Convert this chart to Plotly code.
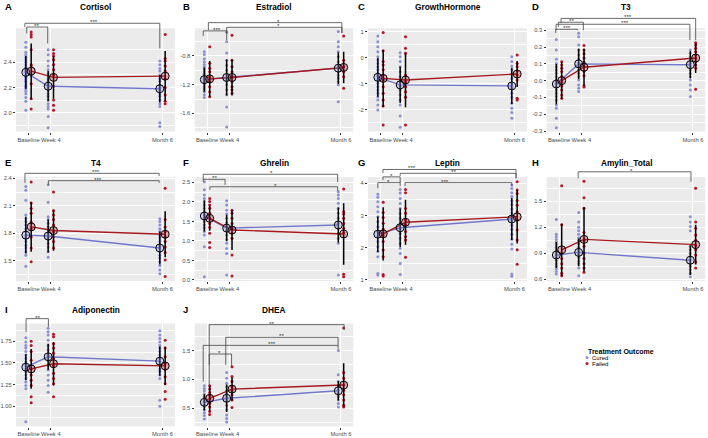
import plotly.graph_objects as go

W, H = 708, 438
TIMES = ["Baseline", "Week 4", "Month 6"]
TIME_X = [0, 1, 6]

# ---------------- data ----------------
A_cured = [[2.56, 2.52, 2.48, 2.46, 2.44, 2.42, 2.40, 2.38, 2.36, 2.35, 2.33, 2.32, 2.30, 2.29, 2.28, 2.27, 2.26, 2.25, 2.24, 2.22, 2.21, 2.20, 2.19, 2.17, 2.15, 2.12, 2.09, 2.02],
           [2.50, 2.46, 2.41, 2.37, 2.34, 2.31, 2.27, 2.25, 2.22, 2.20, 2.18, 2.15, 2.13, 2.10, 2.07, 2.05, 2.03, 1.97, 1.88],
           [2.41, 2.38, 2.35, 2.33, 2.30, 2.27, 2.25, 2.22, 2.20, 2.18, 2.15, 2.13, 2.10, 2.07, 2.05, 1.92, 1.89]]
A_failed = [[2.64, 2.62, 2.60, 2.50, 2.38, 2.37, 2.30, 2.23, 2.11, 2.03],
            [2.50, 2.47, 2.45, 2.42, 2.38, 2.34, 2.30, 2.21, 2.10, 2.06, 2.02],
            [2.62, 2.43, 2.41, 2.37, 2.33, 2.27, 2.20, 2.14, 2.09, 2.07]]
A_mean_c = [2.32, 2.21, 2.19]
A_mean_f = [2.33, 2.28, 2.29]
A_sd_c = [0.13, 0.12, 0.11]
A_sd_f = [0.22, 0.17, 0.20]
A_ticks = [2.0, 2.2, 2.4]
# (x0, x1, y, left-leg end, right-leg end, label, label x)
A_sig = [(-0.16, 5.88, 2.71, 2.68, 2.51, "***", 2.93), (-0.08, 0.86, 2.68, 2.63, 2.55, "**", 0.37)]

B_cured = [[-0.74, -0.78, -0.84, -0.88, -0.92, -0.95, -0.98, -1.01, -1.04, -1.06, -1.08, -1.10, -1.12, -1.14, -1.16, -1.18, -1.20, -1.23, -1.26, -1.30, -1.34, -1.38],
           [-0.47, -0.60, -0.76, -0.86, -0.93, -1.00, -1.06, -1.13, -1.20, -1.27, -1.34, -1.51, -1.79],
           [-0.46, -0.60, -0.67, -0.74, -0.81, -0.88, -0.93, -0.97, -1.02, -1.07, -1.11, -1.16, -1.20, -1.44]]
B_failed = [[-0.67, -0.90, -0.97, -1.02, -1.09, -1.16, -1.23, -1.30, -1.37],
            [-0.51, -0.86, -0.95, -1.02, -1.09, -1.16, -1.23, -1.27, -1.32],
            [-0.52, -0.86, -0.95, -1.02, -1.09, -1.25]]
B_mean_c = [-1.13, -1.10, -0.97]
B_mean_f = [-1.12, -1.10, -0.96]
B_sd_c = [0.17, 0.25, 0.22]
B_sd_f = [0.25, 0.25, 0.22]
B_ticks = [-1.6, -1.2, -0.8]
B_sig = [(0.06, 6.04, -0.335, -0.44, -0.48, "*", 3.18), (0.88, 6.04, -0.40, -0.48, -0.48, "*", 3.18),
         (-0.17, 0.88, -0.45, -0.52, -0.58, "***", 0.43)]

C_cured = [[0.84, 0.62, 0.42, 0.23, 0.04, -0.09, -0.22, -0.35, -0.47, -0.60, -0.73, -0.86, -0.99, -1.12, -1.25, -1.37, -1.51, -1.63, -1.83, -2.02],
           [0.19, 0.04, -0.15, -0.35, -0.54, -0.73, -0.93, -1.09, -1.25, -1.44, -1.63, -1.83, -2.25, -2.69],
           [0.04, -0.15, -0.32, -0.47, -0.63, -0.80, -0.99, -1.18, -1.37, -1.53, -1.76, -1.95, -2.12, -2.34]]
C_failed = [[0.97, 0.27, -0.15, -0.28, -0.47, -0.67, -0.86, -1.12, -1.37, -1.63, -1.86, -2.60],
            [0.81, 0.36, 0.17, -0.67, -0.93, -1.12, -1.31, -1.53, -2.60],
            [0.10, -0.22, -0.35, -0.50, -0.67, -0.86, -1.57, -1.63]]
C_mean_c = [-0.76, -1.05, -1.09]
C_mean_f = [-0.80, -0.86, -0.63]
C_sd_c = [0.75, 0.70, 0.70]
C_sd_f = [1.10, 1.05, 0.50]
C_ticks = [-2, -1, 0, 1]
C_sig = []

D_cured = [[0.246, 0.183, 0.127, 0.103, 0.083, 0.064, 0.044, 0.024, 0.004, -0.015, -0.036, -0.055, -0.075, -0.095, -0.115, -0.145, -0.164, -0.224, -0.28],
           [0.282, 0.262, 0.213, 0.183, 0.153, 0.127, 0.104, 0.083, 0.064, 0.044, 0.024, 0.004, -0.026, -0.045, -0.065],
           [0.183, 0.163, 0.143, 0.123, 0.104, 0.083, 0.064, 0.044, 0.024, 0.004, -0.026, -0.055, -0.095]]
D_failed = [[0.113, 0.093, 0.074, 0.054, 0.024, -0.006, -0.032, -0.055, -0.085, -0.105],
            [0.21, 0.183, 0.16, 0.135, 0.11, 0.085, 0.055, 0.03, -0.03, -0.038],
            [0.226, 0.212, 0.193, 0.173, 0.153, 0.133, 0.113, 0.093, 0.074, -0.051]]
D_mean_c = [-0.02, 0.10, 0.095]
D_mean_f = [0.0, 0.08, 0.135]
D_sd_c = [0.12, 0.09, 0.08]
D_sd_f = [0.11, 0.11, 0.09]
D_ticks = [-0.3, -0.2, -0.1, 0.0, 0.1, 0.2, 0.3]
D_sig = [(0.09, 6.12, 0.371, 0.343, 0.242, "***", 3.1), (-0.03, 1.09, 0.348, 0.32, 0.30, "**", 0.57),
         (-0.13, 5.86, 0.336, 0.30, 0.242, "***", 2.96), (-0.15, 0.84, 0.306, 0.284, 0.30, "***", 0.34)]

E_cured = [[2.31, 2.27, 2.16, 2.00, 1.96, 1.93, 1.89, 1.85, 1.82, 1.78, 1.75, 1.71, 1.67, 1.64, 1.60, 1.56, 1.44],
           [2.33, 2.14, 1.98, 1.95, 1.91, 1.87, 1.84, 1.80, 1.76, 1.73, 1.69, 1.65, 1.60, 1.54],
           [1.96, 1.93, 1.89, 1.85, 1.82, 1.78, 1.75, 1.71, 1.67, 1.64, 1.60, 1.56, 1.53, 1.49, 1.45, 1.40, 1.36]]
E_failed = [[2.36, 2.13, 2.07, 2.02, 1.92, 1.85, 1.76, 1.64, 1.49],
            [2.25, 2.05, 2.00, 1.95, 1.89, 1.82, 1.76, 1.71, 1.64],
            [2.29, 1.95, 1.87, 1.82, 1.76, 1.71, 1.65, 1.59, 1.51, 1.33]]
E_mean_c = [1.78, 1.77, 1.64]
E_mean_f = [1.87, 1.83, 1.79]
E_sd_c = [0.20, 0.18, 0.18]
E_sd_f = [0.27, 0.22, 0.25]
E_ticks = [1.5, 1.8, 2.1, 2.4]
E_sig = [(-0.16, 5.85, 2.454, 2.35, 2.425, "***", 3.0), (0.89, 5.85, 2.374, 2.33, 2.35, "***", 3.1)]

F_cured = [[2.52, 2.31, 2.18, 2.09, 2.01, 1.92, 1.84, 1.75, 1.67, 1.58, 1.50, 1.41, 1.33, 1.24, 1.15, 0.85, 0.08],
           [2.03, 1.92, 1.79, 1.69, 1.58, 1.47, 1.37, 1.26, 1.15, 1.04, 0.94, 0.81, 0.68, 0.13],
           [2.26, 2.18, 2.09, 1.97, 1.84, 1.71, 1.58, 1.45, 1.32, 1.20, 1.07, 0.94, 0.13]]
F_failed = [[2.09, 2.01, 1.92, 1.84, 1.71, 1.58, 1.45, 1.35, 1.20, 0.96, 0.83],
            [1.79, 1.71, 1.58, 1.45, 1.32, 1.20, 1.07, 0.64, 0.10],
            [2.33, 1.75, 1.69, 1.58, 1.45, 1.32, 1.21, 0.15, 0.08]]
F_mean_c = [1.64, 1.33, 1.41]
F_mean_f = [1.58, 1.28, 1.18]
F_sd_c = [0.40, 0.34, 0.45]
F_sd_f = [0.32, 0.51, 0.79]
F_ticks = [0.0, 0.5, 1.0, 1.5, 2.0, 2.5]
F_sig = [(-0.17, 5.85, 2.71, 2.58, 2.51, "*", 2.9), (-0.17, 0.81, 2.58, 2.52, 2.44, "**", 0.33),
         (0.13, 5.85, 2.39, 2.31, 2.28, "*", 3.05)]

G_cured = [[3.66, 3.57, 3.43, 3.27, 3.12, 2.96, 2.81, 2.65, 2.50, 2.34, 2.19, 2.03, 1.88, 1.72, 1.20, 1.15],
           [3.81, 3.70, 3.53, 3.37, 3.22, 3.06, 2.91, 2.75, 2.60, 2.44, 2.29, 2.13, 1.98, 1.82, 1.51, 1.17],
           [3.95, 3.84, 3.71, 3.59, 3.46, 3.34, 3.20, 3.08, 2.96, 2.83, 2.70, 2.57, 2.42, 2.26, 2.11, 1.96, 1.18, 1.11]]
G_failed = [[3.41, 3.09, 2.94, 2.76, 2.57, 2.39, 2.19, 1.93, 1.72, 1.17, 1.12],
            [3.81, 3.71, 3.22, 3.07, 2.86, 2.71, 2.50, 2.34, 2.24, 1.70],
            [4.05, 3.79, 3.68, 3.47, 3.32, 3.12, 2.86, 2.55, 2.24, 1.94, 1.49]]
G_mean_c = [2.42, 2.62, 2.89]
G_mean_f = [2.43, 2.79, 2.96]
G_sd_c = [0.55, 0.60, 0.65]
G_sd_f = [0.83, 0.70, 0.83]
G_ticks = [1, 2, 3, 4]
G_sig = [(0.11, 6.07, 4.43, 4.32, 4.16, "***", 1.4), (0.88, 6.07, 4.31, 4.23, 4.16, "**", 3.26),
         (0.11, 0.88, 4.20, 4.10, 4.01, "*", 0.5), (1.10, 5.88, 4.02, 3.92, 3.92, "***", 2.9),
         (-0.12, 0.88, 4.02, 3.85, 3.92, "*", 0.38)]

H_cured = [[1.29, 1.12, 1.09, 1.06, 1.03, 1.00, 0.97, 0.94, 0.91, 0.88, 0.85, 0.82, 0.78, 0.75, 0.72, 0.69, 0.66],
           [1.37, 1.26, 1.20, 1.16, 1.12, 1.08, 1.05, 1.01, 0.97, 0.93, 0.89, 0.85, 0.81, 0.78, 0.73, 0.64],
           [1.32, 1.26, 1.21, 1.16, 0.98, 0.94, 0.90, 0.86, 0.82, 0.78, 0.75, 0.71, 0.67, 0.63]]
H_failed = [[1.68, 1.23, 0.90, 0.84, 0.78, 0.73, 0.67, 0.64],
            [1.73, 1.54, 1.42, 1.14, 1.05, 0.98, 0.90, 0.84, 0.78, 0.73, 0.68],
            [1.65, 1.26, 1.19, 1.11, 1.05, 0.99, 0.94, 0.88, 0.80, 0.73]]
H_mean_c = [0.88, 0.91, 0.82]
H_mean_f = [0.94, 1.06, 1.00]
H_sd_c = [0.15, 0.16, 0.17]
H_sd_f = [0.30, 0.37, 0.23]
H_ticks = [0.6, 0.9, 1.2, 1.5]
H_sig = [(0.86, 5.91, 1.84, 1.765, 1.726, "*", 3.26)]

I_cured = [[1.79, 1.74, 1.70, 1.67, 1.63, 1.59, 1.55, 1.51, 1.47, 1.43, 1.40, 1.36, 1.32, 1.28, 1.24, 1.20, 0.82],
           [1.90, 1.86, 1.82, 1.76, 1.70, 1.65, 1.59, 1.53, 1.47, 1.42, 1.36, 1.30, 1.24, 1.16],
           [1.87, 1.82, 1.78, 1.74, 1.70, 1.67, 1.63, 1.59, 1.55, 1.51, 1.47, 1.43, 1.40, 1.36, 1.32, 1.07, 1.00]]
I_failed = [[1.75, 1.70, 1.63, 1.53, 1.43, 1.36, 1.30, 1.24, 1.11, 1.04],
            [1.83, 1.80, 1.72, 1.67, 1.61, 1.55, 1.47, 1.38, 1.32, 1.26, 1.11],
            [1.76, 1.67, 1.57, 1.49, 1.42, 1.34, 1.26, 1.17, 1.08]]
I_mean_c = [1.45, 1.57, 1.52]
I_mean_f = [1.43, 1.49, 1.465]
I_sd_c = [0.15, 0.15, 0.17]
I_sd_f = [0.23, 0.25, 0.22]
I_ticks = [0.75, 1.00, 1.25, 1.50, 1.75]
I_sig = [(-0.11, 0.89, 2.01, 1.857, 1.915, "**", 0.39)]

J_cured = [[0.89, 0.84, 0.80, 0.75, 0.70, 0.66, 0.61, 0.56, 0.52, 0.47, 0.42, 0.37, 0.31],
           [1.12, 1.02, 0.93, 0.87, 0.81, 0.76, 0.70, 0.64, 0.55, 0.47, 0.38, 0.32, 0.26],
           [1.50, 1.08, 0.96, 0.87, 0.81, 0.76, 0.70, 0.64, 0.58, 0.52]]
J_failed = [[0.89, 0.83, 0.77, 0.72, 0.66, 0.58, 0.52, 0.44, 0.39],
            [1.22, 1.05, 0.96, 0.87, 0.80, 0.73, 0.64, 0.51],
            [1.89, 1.12, 1.02, 0.90, 0.81, 0.73, 0.64, 0.55, 0.52]]
J_mean_c = [0.60, 0.67, 0.80]
J_mean_f = [0.67, 0.83, 0.90]
J_sd_c = [0.14, 0.24, 0.17]
J_sd_f = [0.22, 0.20, 0.38]
J_ticks = [0.5, 1.0, 1.5]
J_sig = [(0.10, 6.14, 1.95, 0.87, 1.86, "**", 2.9), (0.84, 5.87, 1.73, 1.25, 1.59, "**", 3.34),
         (-0.17, 5.87, 1.59, 0.96, 1.53, "***", 2.9), (0.10, 1.10, 1.44, 1.25, 1.20, "*", 0.58)]

# ---------------- panel table ----------------
PANELS = [
    ("A", "Cortisol", 0, 0, A_cured, A_failed, A_mean_c, A_mean_f, A_sd_c, A_sd_f, A_ticks, "{:.1f}", (1.849, 2.67), A_sig),
    ("B", "Estradiol", 0, 1, B_cured, B_failed, B_mean_c, B_mean_f, B_sd_c, B_sd_f, B_ticks, "{:.1f}", (-1.856, -0.414), B_sig),
    ("C", "GrowthHormone", 0, 2, C_cured, C_failed, C_mean_c, C_mean_f, C_sd_c, C_sd_f, C_ticks, "{:.0f}", (-2.857, 1.135), C_sig),
    ("D", "T3", 0, 3, D_cured, D_failed, D_mean_c, D_mean_f, D_sd_c, D_sd_f, D_ticks, "{:.1f}", (-0.304, 0.312), D_sig),
    ("E", "T4", 1, 0, E_cured, E_failed, E_mean_c, E_mean_f, E_sd_c, E_sd_f, E_ticks, "{:.1f}", (1.28, 2.414), E_sig),
    ("F", "Ghrelin", 1, 1, F_cured, F_failed, F_mean_c, F_mean_f, F_sd_c, F_sd_f, F_ticks, "{:.1f}", (-0.026, 2.64), F_sig),
    ("G", "Leptin", 1, 2, G_cured, G_failed, G_mean_c, G_mean_f, G_sd_c, G_sd_f, G_ticks, "{:.0f}", (0.966, 4.196), G_sig),
    ("H", "Amylin_Total", 1, 3, H_cured, H_failed, H_mean_c, H_mean_f, H_sd_c, H_sd_f, H_ticks, "{:.1f}", (0.58, 1.78), H_sig),
    ("I", "Adiponectin", 2, 0, I_cured, I_failed, I_mean_c, I_mean_f, I_sd_c, I_sd_f, I_ticks, "{:.2f}", (0.766, 1.954), I_sig),
    ("J", "DHEA", 2, 1, J_cured, J_failed, J_mean_c, J_mean_f, J_sd_c, J_sd_f, J_ticks, "{:.1f}", (0.18, 1.97), J_sig),
]

# ---------------- layout config ----------------
COL_LEFT = [16, 194.5, 368, 546.5]
PLOT_W = 159
ROW_GRAY = [(28.3, 131.7), (177, 281), (323.5, 426.5)]
ROW_DOMTOP = [10, 161, 311]
ROW_TITLE_Y = [7.3, 163.3, 310]
LETTER_X = [3, 181, 356, 530]
XR = [-0.56, 6.56]
DODGE_C, DODGE_F = -0.12, 0.12

CURED_PT = "#8B8FDA"
CURED_LINE = "#7277CB"
CURED_FILL = "rgba(139,143,218,0.35)"
FAILED_PT = "#B2182B"
FAILED_LINE = "#A51A1F"
FAILED_FILL = "rgba(178,24,43,0.3)"
BG = "#EBEBEB"
FONT = "Liberation Sans"

fig = go.Figure()
layout = dict(width=W, height=H, margin=dict(l=0, r=0, t=0, b=0, autoexpand=False),
              paper_bgcolor="white", plot_bgcolor="white", showlegend=False,
              font=dict(family=FONT))
annotations, shapes = [], []

for i, (letter, title, r, c, cur, fail, mc, mf, sc, sf, ticks, fmt, yr, sig) in enumerate(PANELS):
    k = "" if i == 0 else str(i + 1)
    xa, ya = "x" + k, "y" + k
    gt, gb = ROW_GRAY[r]
    dt = ROW_DOMTOP[r]
    ylo, yhi = yr
    ytop = yhi + (yhi - ylo) * (gt - dt) / (gb - gt)
    x0 = COL_LEFT[c]
    step = ticks[1] - ticks[0]
    minors = [t + step / 2 for t in [ticks[0] - step] + ticks]
    minors = [m for m in minors if ylo < m < yhi]
    layout["xaxis" + k] = dict(domain=[x0 / W, (x0 + PLOT_W) / W], range=XR, anchor=ya,
                               automargin=False,
                               tickvals=TIME_X, ticktext=TIMES, tickangle=0, showgrid=True,
                               gridcolor="white", gridwidth=1, zeroline=False, showline=False,
                               ticks="outside", ticklen=2, tickwidth=0.6, tickcolor="#333333",
                               tickfont=dict(size=5.8, color="#4D4D4D", family=FONT))
    layout["yaxis" + k] = dict(domain=[1 - gb / H, 1 - dt / H], range=[ylo, ytop], anchor=xa,
                               automargin=False,
                               tickvals=ticks, ticktext=[fmt.format(t) for t in ticks],
                               showgrid=True, gridcolor="white", gridwidth=1, zeroline=False,
                               showline=False, ticks="outside", ticklen=2, tickwidth=0.6,
                               tickcolor="#333333",
                               tickfont=dict(size=5.8, color="#4D4D4D", family=FONT),
                               minor=dict(tickvals=minors, showgrid=True, gridcolor="white",
                                          gridwidth=0.5, ticks=""))
    shapes.append(dict(type="rect", xref=xa, yref=ya, x0=XR[0], x1=XR[1], y0=ylo, y1=yhi,
                       fillcolor=BG, line=dict(width=0), layer="below"))

    # individual points
    for pts, off, col in ((cur, DODGE_C, CURED_PT), (fail, DODGE_F, FAILED_PT)):
        xs, ys = [], []
        for t, vals in zip(TIME_X, pts):
            xs += [t + off] * len(vals)
            ys += vals
        fig.add_trace(go.Scatter(x=xs, y=ys, mode="markers", xaxis=xa, yaxis=ya,
                                 marker=dict(size=3, color=col, line=dict(width=0)),
                                 hoverinfo="skip"))
    # mean lines
    for means, off, col in ((mc, DODGE_C, CURED_LINE), (mf, DODGE_F, FAILED_LINE)):
        fig.add_trace(go.Scatter(x=[t + off for t in TIME_X], y=means, mode="lines",
                                 xaxis=xa, yaxis=ya, line=dict(color=col, width=1.4),
                                 hoverinfo="skip"))
    # error bars + mean circles
    for means, sds, off, fill in ((mc, sc, DODGE_C, CURED_FILL), (mf, sf, DODGE_F, FAILED_FILL)):
        fig.add_trace(go.Scatter(x=[t + off for t in TIME_X], y=means, mode="markers",
                                 xaxis=xa, yaxis=ya, marker=dict(size=1, color="rgba(0,0,0,0)"),
                                 error_y=dict(type="data", array=sds, visible=True,
                                              color="black", thickness=1.5, width=0),
                                 hoverinfo="skip"))
        fig.add_trace(go.Scatter(x=[t + off for t in TIME_X], y=means, mode="markers",
                                 xaxis=xa, yaxis=ya,
                                 marker=dict(size=8, color=fill, line=dict(color="black", width=1)),
                                 hoverinfo="skip"))
    # significance brackets
    if sig:
        bx, by = [], []
        for (sx0, sx1, sy, syl, syr, lab, lx) in sig:
            bx += [sx0, sx0, sx1, sx1, None]
            by += [syl, sy, sy, syr, None]
            annotations.append(dict(x=lx, y=sy, xref=xa, yref=ya, text=lab,
                                    showarrow=False, yanchor="middle", yshift=1.5,
                                    font=dict(size=6.2, color="#333333", family=FONT)))
        fig.add_trace(go.Scatter(x=bx, y=by, mode="lines", xaxis=xa, yaxis=ya,
                                 line=dict(color="#444444", width=0.8), hoverinfo="skip"))

    # title + letter
    annotations.append(dict(x=(x0 + PLOT_W / 2) / W, y=1 - ROW_TITLE_Y[r] / H, xref="paper",
                            yref="paper", text="<b>" + title + "</b>", showarrow=False,
                            xanchor="center", yanchor="middle",
                            font=dict(size=8.3, color="black", family=FONT)))
    annotations.append(dict(x=LETTER_X[c] / W, y=1 - (ROW_TITLE_Y[r] - 0.6) / H, xref="paper",
                            yref="paper", text="<b>" + letter + "</b>", showarrow=False,
                            xanchor="left", yanchor="middle",
                            font=dict(size=9.5, color="black", family=FONT)))

# legend
annotations.append(dict(x=586 / W, y=1 - 351 / H, xref="paper", yref="paper",
                        text="<b>Treatment Outcome</b>", showarrow=False, xanchor="left",
                        yanchor="middle", font=dict(size=7, color="black", family=FONT)))
for lab, col, yy in (("Cured", CURED_PT, 357.5), ("Failed", FAILED_PT, 363.5)):
    shapes.append(dict(type="circle", xref="paper", yref="paper",
                       x0=585.5 / W, x1=588.5 / W, y0=1 - (yy + 1.5) / H, y1=1 - (yy - 1.5) / H,
                       fillcolor=col, line=dict(width=0)))
    annotations.append(dict(x=589.5 / W, y=1 - yy / H, xref="paper", yref="paper", text=lab,
                            showarrow=False, xanchor="left", yanchor="middle",
                            font=dict(size=6, color="black", family=FONT)))

layout["annotations"] = annotations
layout["shapes"] = shapes
fig.update_layout(**layout)
fig.write_html("out.html", config={"displayModeBar": False},
               post_script="document.body.style.margin='0px';document.body.style.overflow='hidden';")
